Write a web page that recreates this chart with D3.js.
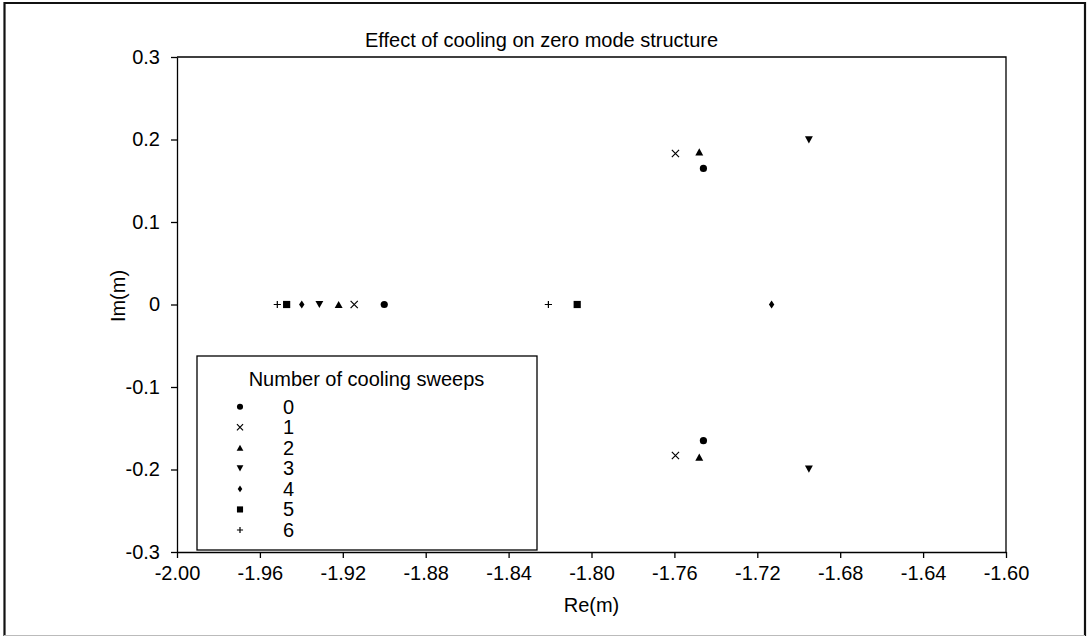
<!DOCTYPE html>
<html>
<head>
<meta charset="utf-8">
<script src="https://cdn.jsdelivr.net/npm/d3@7"></script>
<style>
	body { margin: 0; background: #fff; }
	svg { display: block; }
	text { font-family: "Liberation Sans", Arial, sans-serif; fill: #000; }
</style>
</head>
<body>
<div id="graph"></div>
<script>
// zero mode positions (Re, Im) for each number of cooling sweeps
const sweeps = ["0", "1", "2", "3", "4", "5", "6"];

const sweep0Re = [-1.900, -1.746, -1.746];
const sweep0Im = [0, 0.165, -0.165];
const sweep1Re = [-1.9145, -1.7595, -1.7595];
const sweep1Im = [0, 0.183, -0.183];
const sweep2Re = [-1.922, -1.748, -1.748];
const sweep2Im = [0, 0.185, -0.185];
const sweep3Re = [-1.9313, -1.6951, -1.6951];
const sweep3Im = [0, 0.1995, -0.1995];
const sweep4Re = [-1.9398, -1.7131];
const sweep4Im = [0, 0];
const sweep5Re = [-1.9471, -1.8069];
const sweep5Im = [0, 0];
const sweep6Re = [-1.9516, -1.8208];
const sweep6Im = [0, 0];

const xTickValues = [-2.00, -1.96, -1.92, -1.88, -1.84, -1.80, -1.76, -1.72, -1.68, -1.64, -1.60];
const yTickValues = [-0.3, -0.2, -0.1, 0, 0.1, 0.2, 0.3];

const titleText = "Effect of cooling on zero mode structure";
const xLabel = "Re(m)";
const yLabel = "Im(m)";
const legendTitle = "Number of cooling sweeps";

const svgWidth = 1088;
const svgHeight = 636;
const plot = {left: 177, right: 1006, top: 57, bottom: 552};

const reAll = [sweep0Re, sweep1Re, sweep2Re, sweep3Re, sweep4Re, sweep5Re, sweep6Re];
const imAll = [sweep0Im, sweep1Im, sweep2Im, sweep3Im, sweep4Im, sweep5Im, sweep6Im];
const shapes = ["circle", "cross", "up", "down", "diamond", "square", "plus"];

const series = sweeps.map((s, i) => ({
	label: s,
	shape: shapes[i],
	points: reAll[i].map((re, j) => [re, imAll[i][j]])
}));

// marker path, centred on 0,0 ; k scales it
function markerPath(shape, k) {
	const p = d3.path();
	const r = 3.6 * k;
	if (shape === "circle") {
		p.arc(0, 0, r, 0, 2 * Math.PI);
	} else if (shape === "up") {
		p.moveTo(0, -r); p.lineTo(r * 1.1, r); p.lineTo(-r * 1.1, r); p.closePath();
	} else if (shape === "down") {
		p.moveTo(0, r); p.lineTo(r * 1.1, -r); p.lineTo(-r * 1.1, -r); p.closePath();
	} else if (shape === "diamond") {
		p.moveTo(0, -r * 1.1); p.lineTo(r * 0.75, 0); p.lineTo(0, r * 1.1); p.lineTo(-r * 0.75, 0); p.closePath();
	} else if (shape === "square") {
		p.rect(-r, -r, 2 * r, 2 * r);
	} else if (shape === "cross") {
		p.moveTo(-r, -r); p.lineTo(r, r); p.moveTo(r, -r); p.lineTo(-r, r);
	} else if (shape === "plus") {
		p.moveTo(-r, 0); p.lineTo(r, 0); p.moveTo(0, -r); p.lineTo(0, r);
	}
	return p.toString();
}

const isLine = s => s === "cross" || s === "plus";

function drawMarker(sel, shape, k) {
	sel.append('path')
		.attr('d', markerPath(shape, k))
		.attr('fill', isLine(shape) ? 'none' : '#000')
		.attr('stroke', isLine(shape) ? '#000' : 'none')
		.attr('stroke-width', 1.2);
}

const svg = d3.select('#graph').append('svg')
	.attr('width', svgWidth)
	.attr('height', svgHeight);

svg.append('rect')
	.attr('width', svgWidth)
	.attr('height', svgHeight)
	.attr('fill', '#fff');

// outer frame
svg.append('path')
	.attr('d', `M4.5,${svgHeight} V3 H1085 V${svgHeight}`)
	.attr('fill', 'none')
	.attr('stroke', '#111')
	.attr('stroke-width', 2.2);
svg.append('line')
	.attr('x1', 4).attr('x2', 1085)
	.attr('y1', 635.5).attr('y2', 635.5)
	.attr('stroke', '#bbb')
	.attr('stroke-width', 1);

const xScale = d3.scaleLinear()
	.domain([-2.0, -1.6])
	.range([plot.left, plot.right]);

const yScale = d3.scaleLinear()
	.domain([-0.3, 0.3])
	.range([plot.bottom, plot.top]);

const fmtX = d => d3.format(".2f")(d).replace("−", "-");
const fmtY = d => (Math.abs(d) < 1e-9 ? "0" : d3.format(".1f")(d).replace("−", "-"));

const xAxis = d3.axisBottom(xScale)
	.tickValues(xTickValues)
	.tickFormat(fmtX)
	.tickSize(6)
	.tickSizeOuter(0)
	.tickPadding(8);

const yAxis = d3.axisLeft(yScale)
	.tickValues(yTickValues)
	.tickFormat(fmtY)
	.tickSize(6)
	.tickSizeOuter(0)
	.tickPadding(11);

const gx = svg.append('g')
	.attr('transform', `translate(0, ${plot.bottom})`)
	.call(xAxis);

const gy = svg.append('g')
	.attr('transform', `translate(${plot.left}, 0)`)
	.call(yAxis);

[gx, gy].forEach(g => {
	g.selectAll('text').attr('font-size', 20).attr('font-family', '"Liberation Sans", Arial, sans-serif');
	g.selectAll('line, path').attr('stroke', '#000').attr('stroke-width', 1.3);
});

// top + right frame
svg.append('path')
	.attr('d', `M${plot.left},${plot.top} H${plot.right} V${plot.bottom}`)
	.attr('fill', 'none')
	.attr('stroke', '#000')
	.attr('stroke-width', 1.3);

svg.append('text')
	.attr('x', 541.5)
	.attr('y', 47)
	.attr('text-anchor', 'middle')
	.attr('font-size', 20)
	.text(titleText);

svg.append('text')
	.attr('x', (plot.left + plot.right) / 2)
	.attr('y', 612)
	.attr('text-anchor', 'middle')
	.attr('font-size', 20)
	.text(xLabel);

svg.append('text')
	.attr('transform', `translate(125, 296) rotate(-90)`)
	.attr('text-anchor', 'middle')
	.attr('font-size', 20)
	.text(yLabel);

// legend
const legend = svg.append('g');
legend.append('rect')
	.attr('x', 197)
	.attr('y', 356)
	.attr('width', 340)
	.attr('height', 194)
	.attr('fill', '#fff')
	.attr('stroke', '#000')
	.attr('stroke-width', 1.3);

legend.append('text')
	.attr('x', 366.5)
	.attr('y', 386)
	.attr('text-anchor', 'middle')
	.attr('font-size', 20)
	.text(legendTitle);

const rowY = i => 406.7 + i * 20.55;

const rows = legend.selectAll('g.row').data(series).enter()
	.append('g')
	.attr('class', 'row')
	.attr('transform', (d, i) => `translate(240, ${rowY(i)})`);

rows.each(function (d) {
	drawMarker(d3.select(this), d.shape, 0.85);
});

rows.append('text')
	.attr('x', 43)
	.attr('y', 7)
	.attr('font-size', 20)
	.text(d => d.label);

// points
series.forEach(s => {
	const g = svg.append('g').attr('class', 'series-' + s.label);
	g.selectAll('g').data(s.points).enter()
		.append('g')
		.attr('transform', d => `translate(${xScale(d[0])}, ${yScale(d[1])})`)
		.each(function () {
			drawMarker(d3.select(this), s.shape, 1);
		});
});
</script>
</body>
</html>
